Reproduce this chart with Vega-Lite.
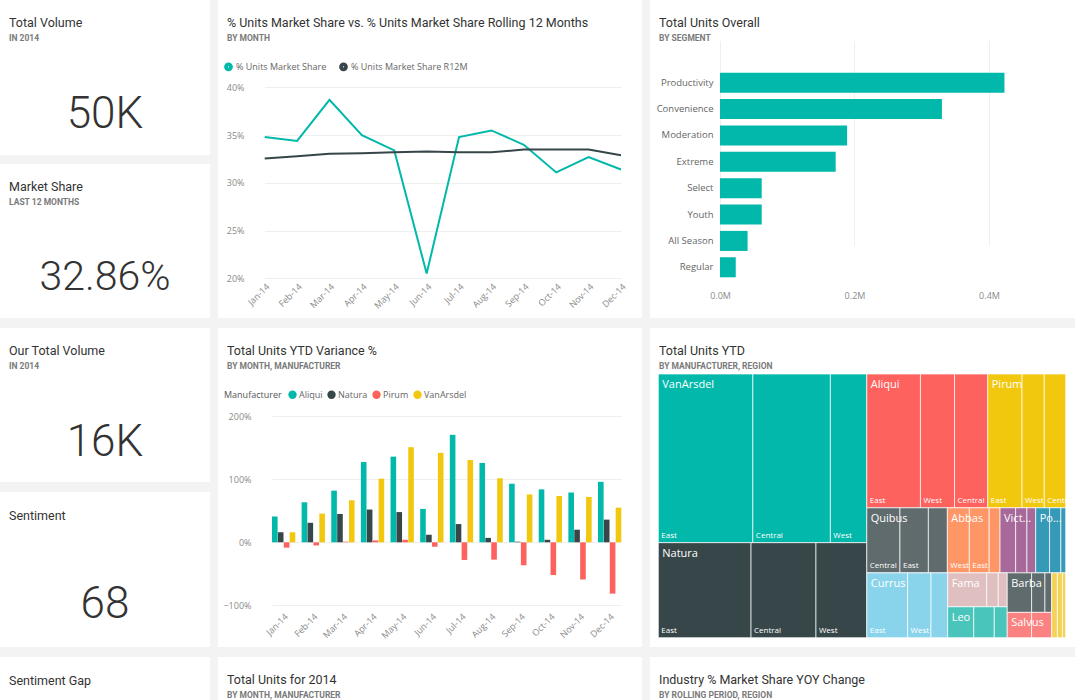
{
  "$schema": "https://vega.github.io/schema/vega-lite/v6.json",
  "background": "#f3f3f3",
  "padding": 0,
  "autosize": {"type": "pad"},
  "spacing": 10,
  "resolve": {"scale": {"color": "independent"}, "legend": {"color": "independent"}},
  "config": {
    "view": {"fill": "white", "stroke": null},
    "font": "Roboto",
    "title": {"anchor": "start", "frame": "group", "font": "Roboto", "fontSize": 12.5, "fontWeight": "normal", "color": "#333333", "subtitleFont": "Roboto", "subtitleFontSize": 8.5, "subtitleFontWeight": "bold", "subtitleColor": "#7a7a7a", "subtitlePadding": 4, "offset": -42, "dx": 9},
    "axis": {"domain": false, "ticks": false, "tickSize": 0, "labelColor": "#8a8a8a", "labelFontSize": 9, "labelFont": "Open Sans", "gridColor": "#efefef", "title": null},
    "legend": {"labelFont": "Open Sans", "labelFontSize": 9, "labelColor": "#666666", "titleFont": "Open Sans", "titleFontSize": 9, "titleFontWeight": "normal", "titleColor": "#555555", "symbolType": "circle", "symbolSize": 70, "symbolStrokeWidth": 0, "columnPadding": 4, "labelOffset": 2}
  },
  "vconcat": [
    {
      "hconcat": [
        {
          "vconcat": [
            {
              "width": 210, "height": 155,
              "title": {"text": "Total Volume", "subtitle": "IN 2014"},
              "data": {"values": [{"label": "50K"}]},
              "mark": {"type": "text", "baseline": "alphabetic", "align": "center", "font": "Roboto", "fontWeight": 300, "fontSize": 44, "color": "#333333"},
              "encoding": {
                "x": {"datum": 0.5, "type": "quantitative", "scale": {"domain": [0, 1]}, "axis": null},
                "y": {"datum": 0.177, "type": "quantitative", "scale": {"domain": [0, 1]}, "axis": null},
                "text": {"field": "label"}
              }
            },
            {
              "width": 210, "height": 154,
              "title": {"text": "Market Share", "subtitle": "LAST 12 MONTHS"},
              "data": {"values": [{"label": "32.86%"}]},
              "mark": {"type": "text", "baseline": "alphabetic", "align": "center", "font": "Roboto", "fontWeight": 300, "fontSize": 41, "color": "#333333"},
              "encoding": {
                "x": {"datum": 0.5, "type": "quantitative", "scale": {"domain": [0, 1]}, "axis": null},
                "y": {"datum": 0.182, "type": "quantitative", "scale": {"domain": [0, 1]}, "axis": null},
                "text": {"field": "label"}
              }
            }
          ],
          "spacing": 9
        },
        {
          "width": 424, "height": 318,
          "title": {"text": "% Units Market Share vs. % Units Market Share Rolling 12 Months", "subtitle": "BY MONTH"},
          "data": {"values": [
            {"month": "Jan-14", "series": "% Units Market Share", "share": 0.348},
            {"month": "Feb-14", "series": "% Units Market Share", "share": 0.344},
            {"month": "Mar-14", "series": "% Units Market Share", "share": 0.387},
            {"month": "Apr-14", "series": "% Units Market Share", "share": 0.350},
            {"month": "May-14", "series": "% Units Market Share", "share": 0.334},
            {"month": "Jun-14", "series": "% Units Market Share", "share": 0.205},
            {"month": "Jul-14", "series": "% Units Market Share", "share": 0.348},
            {"month": "Aug-14", "series": "% Units Market Share", "share": 0.355},
            {"month": "Sep-14", "series": "% Units Market Share", "share": 0.340},
            {"month": "Oct-14", "series": "% Units Market Share", "share": 0.311},
            {"month": "Nov-14", "series": "% Units Market Share", "share": 0.327},
            {"month": "Dec-14", "series": "% Units Market Share", "share": 0.314},
            {"month": "Jan-14", "series": "% Units Market Share R12M", "share": 0.3256},
            {"month": "Feb-14", "series": "% Units Market Share R12M", "share": 0.328},
            {"month": "Mar-14", "series": "% Units Market Share R12M", "share": 0.3305},
            {"month": "Apr-14", "series": "% Units Market Share R12M", "share": 0.331},
            {"month": "May-14", "series": "% Units Market Share R12M", "share": 0.332},
            {"month": "Jun-14", "series": "% Units Market Share R12M", "share": 0.333},
            {"month": "Jul-14", "series": "% Units Market Share R12M", "share": 0.332},
            {"month": "Aug-14", "series": "% Units Market Share R12M", "share": 0.332},
            {"month": "Sep-14", "series": "% Units Market Share R12M", "share": 0.335},
            {"month": "Oct-14", "series": "% Units Market Share R12M", "share": 0.335},
            {"month": "Nov-14", "series": "% Units Market Share R12M", "share": 0.335},
            {"month": "Dec-14", "series": "% Units Market Share R12M", "share": 0.329}
          ]},
          "mark": {"type": "line", "strokeWidth": 2},
          "encoding": {
            "x": {"field": "month", "type": "ordinal", "sort": null, "scale": {"type": "point", "padding": 0, "range": [46.7, 403]}, "axis": {"labelAngle": -45, "offset": -38, "labelPadding": 2, "grid": false}},
            "y": {"field": "share", "type": "quantitative", "scale": {"domain": [0.1584, 0.4917], "nice": false, "zero": false}, "axis": {"values": [0.2, 0.25, 0.3, 0.35, 0.4], "format": ".0%", "offset": -28, "labelPadding": 2, "grid": true}},
            "color": {"field": "series", "type": "nominal", "scale": {"domain": ["% Units Market Share", "% Units Market Share R12M"], "range": ["#01B8AA", "#374649"]}, "legend": {"orient": "none", "legendX": 6, "legendY": 62, "direction": "horizontal", "title": null, "symbolSize": 14, "symbolStrokeWidth": 5, "labelOffset": 3}}
          }
        },
        {
          "width": 425, "height": 318,
          "title": {"text": "Total Units Overall", "subtitle": "BY SEGMENT"},
          "data": {"values": [
            {"segment": "Productivity", "units": 423000},
            {"segment": "Convenience", "units": 330000},
            {"segment": "Moderation", "units": 189000},
            {"segment": "Extreme", "units": 172000},
            {"segment": "Select", "units": 62000},
            {"segment": "Youth", "units": 62000},
            {"segment": "All Season", "units": 41000},
            {"segment": "Regular", "units": 23400}
          ]},
          "mark": {"type": "bar", "color": "#01B8AA"},
          "encoding": {
            "y": {"field": "segment", "type": "nominal", "sort": null, "scale": {"paddingInner": 0.24, "paddingOuter": 0, "range": [72.7, 277.3]}, "axis": {"offset": -67, "labelPadding": 4, "labelFontSize": 9.5, "labelColor": "#666666"}},
            "x": {"field": "units", "type": "quantitative", "scale": {"domain": [-104100, 527900], "nice": false, "zero": false}, "axis": {"values": [0, 200000, 400000], "labelExpr": "format(datum.value/1000000, '.1f') + 'M'", "offset": -30, "labelPadding": 3, "grid": true}}
          }
        }
      ],
      "spacing": 8,
      "resolve": {"scale": {"color": "independent"}, "legend": {"color": "independent"}}
    },
    {
      "hconcat": [
        {
          "vconcat": [
            {
              "width": 210, "height": 154,
              "title": {"text": "Our Total Volume", "subtitle": "IN 2014"},
              "data": {"values": [{"label": "16K"}]},
              "mark": {"type": "text", "baseline": "alphabetic", "align": "center", "font": "Roboto", "fontWeight": 300, "fontSize": 44, "color": "#333333"},
              "encoding": {
                "x": {"datum": 0.5, "type": "quantitative", "scale": {"domain": [0, 1]}, "axis": null},
                "y": {"datum": 0.171, "type": "quantitative", "scale": {"domain": [0, 1]}, "axis": null},
                "text": {"field": "label"}
              }
            },
            {
              "width": 210, "height": 155,
              "title": {"text": "Sentiment", "offset": -30},
              "data": {"values": [{"label": "68"}]},
              "mark": {"type": "text", "baseline": "alphabetic", "align": "center", "font": "Roboto", "fontWeight": 300, "fontSize": 44, "color": "#333333"},
              "encoding": {
                "x": {"datum": 0.5, "type": "quantitative", "scale": {"domain": [0, 1]}, "axis": null},
                "y": {"datum": 0.189, "type": "quantitative", "scale": {"domain": [0, 1]}, "axis": null},
                "text": {"field": "label"}
              }
            }
          ],
          "spacing": 10
        },
        {
          "width": 424, "height": 319,
          "title": {"text": "Total Units YTD Variance %", "subtitle": "BY MONTH, MANUFACTURER"},
          "data": {"values": [
            {"month": "Jan-14", "manufacturer": "Aliqui", "variance": 0.41},
            {"month": "Jan-14", "manufacturer": "Natura", "variance": 0.16},
            {"month": "Jan-14", "manufacturer": "Pirum", "variance": -0.085},
            {"month": "Jan-14", "manufacturer": "VanArsdel", "variance": 0.16},
            {"month": "Feb-14", "manufacturer": "Aliqui", "variance": 0.635},
            {"month": "Feb-14", "manufacturer": "Natura", "variance": 0.31},
            {"month": "Feb-14", "manufacturer": "Pirum", "variance": -0.05},
            {"month": "Feb-14", "manufacturer": "VanArsdel", "variance": 0.455},
            {"month": "Mar-14", "manufacturer": "Aliqui", "variance": 0.82},
            {"month": "Mar-14", "manufacturer": "Natura", "variance": 0.45},
            {"month": "Mar-14", "manufacturer": "Pirum", "variance": 0.01},
            {"month": "Mar-14", "manufacturer": "VanArsdel", "variance": 0.667},
            {"month": "Apr-14", "manufacturer": "Aliqui", "variance": 1.275},
            {"month": "Apr-14", "manufacturer": "Natura", "variance": 0.52},
            {"month": "Apr-14", "manufacturer": "Pirum", "variance": 0.03},
            {"month": "Apr-14", "manufacturer": "VanArsdel", "variance": 1.01},
            {"month": "May-14", "manufacturer": "Aliqui", "variance": 1.36},
            {"month": "May-14", "manufacturer": "Natura", "variance": 0.48},
            {"month": "May-14", "manufacturer": "Pirum", "variance": 0.04},
            {"month": "May-14", "manufacturer": "VanArsdel", "variance": 1.51},
            {"month": "Jun-14", "manufacturer": "Aliqui", "variance": 0.53},
            {"month": "Jun-14", "manufacturer": "Natura", "variance": 0.12},
            {"month": "Jun-14", "manufacturer": "Pirum", "variance": -0.07},
            {"month": "Jun-14", "manufacturer": "VanArsdel", "variance": 1.42},
            {"month": "Jul-14", "manufacturer": "Aliqui", "variance": 1.706},
            {"month": "Jul-14", "manufacturer": "Natura", "variance": 0.29},
            {"month": "Jul-14", "manufacturer": "Pirum", "variance": -0.28},
            {"month": "Jul-14", "manufacturer": "VanArsdel", "variance": 1.306},
            {"month": "Aug-14", "manufacturer": "Aliqui", "variance": 1.26},
            {"month": "Aug-14", "manufacturer": "Natura", "variance": 0.07},
            {"month": "Aug-14", "manufacturer": "Pirum", "variance": -0.275},
            {"month": "Aug-14", "manufacturer": "VanArsdel", "variance": 1.016},
            {"month": "Sep-14", "manufacturer": "Aliqui", "variance": 0.93},
            {"month": "Sep-14", "manufacturer": "Natura", "variance": 0.01},
            {"month": "Sep-14", "manufacturer": "Pirum", "variance": -0.365},
            {"month": "Sep-14", "manufacturer": "VanArsdel", "variance": 0.76},
            {"month": "Oct-14", "manufacturer": "Aliqui", "variance": 0.84},
            {"month": "Oct-14", "manufacturer": "Natura", "variance": 0.04},
            {"month": "Oct-14", "manufacturer": "Pirum", "variance": -0.52},
            {"month": "Oct-14", "manufacturer": "VanArsdel", "variance": 0.735},
            {"month": "Nov-14", "manufacturer": "Aliqui", "variance": 0.79},
            {"month": "Nov-14", "manufacturer": "Natura", "variance": 0.2},
            {"month": "Nov-14", "manufacturer": "Pirum", "variance": -0.59},
            {"month": "Nov-14", "manufacturer": "VanArsdel", "variance": 0.72},
            {"month": "Dec-14", "manufacturer": "Aliqui", "variance": 0.96},
            {"month": "Dec-14", "manufacturer": "Natura", "variance": 0.36},
            {"month": "Dec-14", "manufacturer": "Pirum", "variance": -0.815},
            {"month": "Dec-14", "manufacturer": "VanArsdel", "variance": 0.55}
          ]},
          "mark": {"type": "bar"},
          "encoding": {
            "x": {"field": "month", "type": "ordinal", "sort": null, "scale": {"paddingInner": 0.214, "paddingOuter": 0, "range": [54, 403.3]}, "axis": {"labelAngle": -45, "offset": -37, "labelPadding": 2}},
            "xOffset": {"field": "manufacturer", "sort": null, "scale": {"paddingInner": 0.05}},
            "y": {"field": "variance", "type": "quantitative", "stack": null, "scale": {"domain": [-1.662, 3.402], "nice": false, "zero": false}, "axis": {"values": [-1, 0, 1, 2], "format": ".0%", "offset": -35, "labelPadding": 2, "grid": true}},
            "color": {"field": "manufacturer", "type": "nominal", "sort": null, "scale": {"domain": ["Aliqui", "Natura", "Pirum", "VanArsdel"], "range": ["#01B8AA", "#374649", "#FD625E", "#F2C80F"]}, "legend": {"orient": "none", "legendX": 6, "legendY": 62, "direction": "horizontal", "title": "Manufacturer", "titleOrient": "left", "titlePadding": 6}}
          }
        },
        {
          "width": 425, "height": 319,
          "title": {"text": "Total Units YTD", "subtitle": "BY MANUFACTURER, REGION"},
          "data": {"values": [
            {"m": "VanArsdel", "r": "East", "v": 15944, "c": 1, "w": 1, "b": 1},
            {"m": "VanArsdel", "r": "Central", "v": 13072, "c": 1, "w": 1, "b": 1},
            {"m": "VanArsdel", "r": "West", "v": 6141, "c": 1, "w": 1, "b": 1},
            {"m": "Natura", "r": "East", "v": 8807, "c": 1, "w": 2, "b": 1},
            {"m": "Natura", "r": "Central", "v": 6167, "c": 1, "w": 2, "b": 1},
            {"m": "Natura", "r": "West", "v": 4825, "c": 1, "w": 2, "b": 1},
            {"m": "Aliqui", "r": "East", "v": 7178, "c": 2, "w": 1, "b": 1},
            {"m": "Aliqui", "r": "West", "v": 4559, "c": 2, "w": 1, "b": 1},
            {"m": "Aliqui", "r": "Central", "v": 4441, "c": 2, "w": 1, "b": 1},
            {"m": "Pirum", "r": "East", "v": 4588, "c": 2, "w": 1, "b": 2},
            {"m": "Pirum", "r": "West", "v": 2978, "c": 2, "w": 1, "b": 2},
            {"m": "Pirum", "r": "Central", "v": 2863, "c": 2, "w": 1, "b": 2},
            {"m": "Quibus", "r": "Central", "v": 2156, "c": 2, "w": 2, "b": 1},
            {"m": "Quibus", "r": "East", "v": 1848, "c": 2, "w": 2, "b": 1},
            {"m": "Quibus", "r": "West", "v": 1235, "c": 2, "w": 2, "b": 1},
            {"m": "Abbas", "r": "West", "v": 1429, "c": 2, "w": 2, "b": 2},
            {"m": "Abbas", "r": "East", "v": 1290, "c": 2, "w": 2, "b": 2},
            {"m": "Abbas", "r": "Central", "v": 706, "c": 2, "w": 2, "b": 2},
            {"m": "Victoria", "r": "East", "v": 1014, "c": 2, "w": 2, "b": 3},
            {"m": "Victoria", "r": "West", "v": 735, "c": 2, "w": 2, "b": 3},
            {"m": "Victoria", "r": "Central", "v": 571, "c": 2, "w": 2, "b": 3},
            {"m": "Pomum", "r": "East", "v": 900, "c": 2, "w": 2, "b": 4},
            {"m": "Pomum", "r": "Central", "v": 735, "c": 2, "w": 2, "b": 4},
            {"m": "Pomum", "r": "West", "v": 315, "c": 2, "w": 2, "b": 4},
            {"m": "Currus", "r": "East", "v": 2643, "c": 2, "w": 3, "b": 1},
            {"m": "Currus", "r": "West", "v": 1517, "c": 2, "w": 3, "b": 1},
            {"m": "Currus", "r": "Central", "v": 1079, "c": 2, "w": 3, "b": 1},
            {"m": "Fama", "r": "East", "v": 1325, "c": 2, "w": 3, "b": 2},
            {"m": "Fama", "r": "West", "v": 391, "c": 2, "w": 3, "b": 2},
            {"m": "Fama", "r": "Central", "v": 304, "c": 2, "w": 3, "b": 2},
            {"m": "Leo", "r": "East", "v": 806, "c": 2, "w": 3, "b": 2},
            {"m": "Leo", "r": "Central", "v": 635, "c": 2, "w": 3, "b": 2},
            {"m": "Leo", "r": "West", "v": 400, "c": 2, "w": 3, "b": 2},
            {"m": "Barba", "r": "East", "v": 963, "c": 2, "w": 3, "b": 3},
            {"m": "Barba", "r": "Central", "v": 526, "c": 2, "w": 3, "b": 3},
            {"m": "Barba", "r": "West", "v": 265, "c": 2, "w": 3, "b": 3},
            {"m": "Salvus", "r": "East", "v": 617, "c": 2, "w": 3, "b": 3},
            {"m": "Salvus", "r": "West", "v": 508, "c": 2, "w": 3, "b": 3},
            {"m": "Palma", "r": "East", "v": 372, "c": 2, "w": 3, "b": 4},
            {"m": "Palma", "r": "Central", "v": 328, "c": 2, "w": 3, "b": 4},
            {"m": "Palma", "r": "West", "v": 210, "c": 2, "w": 3, "b": 4}
          ]},
          "transform": [
            {"joinaggregate": [{"op": "sum", "field": "v", "as": "T"}]},
            {"joinaggregate": [{"op": "sum", "field": "v", "as": "C"}], "groupby": ["c"]},
            {"joinaggregate": [{"op": "sum", "field": "v", "as": "W"}], "groupby": ["c", "w"]},
            {"joinaggregate": [{"op": "sum", "field": "v", "as": "B"}], "groupby": ["c", "w", "b"]},
            {"joinaggregate": [{"op": "sum", "field": "v", "as": "M"}], "groupby": ["m"]},
            {"window": [{"op": "sum", "field": "v", "as": "cE"}], "sort": [{"field": "c", "order": "ascending"}], "frame": [null, 0]},
            {"window": [{"op": "sum", "field": "v", "as": "wE"}], "groupby": ["c"], "sort": [{"field": "w", "order": "ascending"}], "frame": [null, 0]},
            {"window": [{"op": "sum", "field": "v", "as": "bE"}], "groupby": ["c", "w"], "sort": [{"field": "b", "order": "ascending"}], "frame": [null, 0]},
            {"window": [{"op": "sum", "field": "v", "as": "mE"}], "groupby": ["c", "w", "b"], "sort": [{"field": "M", "order": "descending"}], "frame": [null, 0]},
            {"window": [{"op": "sum", "field": "v", "as": "rE"}], "groupby": ["m"], "sort": [{"field": "v", "order": "descending"}], "frame": [null, 0]},
            {"calculate": "(datum.cE - datum.C) / datum.T", "as": "cx0"},
            {"calculate": "datum.cE / datum.T", "as": "cx1"},
            {"calculate": "(datum.wE - datum.W) / datum.C", "as": "wy0"},
            {"calculate": "datum.wE / datum.C", "as": "wy1"},
            {"calculate": "datum.cx0 + (datum.cx1 - datum.cx0) * (datum.bE - datum.B) / datum.W", "as": "bx0"},
            {"calculate": "datum.cx0 + (datum.cx1 - datum.cx0) * datum.bE / datum.W", "as": "bx1"},
            {"calculate": "datum.wy0 + (datum.wy1 - datum.wy0) * (datum.mE - datum.M) / datum.B", "as": "y0"},
            {"calculate": "datum.wy0 + (datum.wy1 - datum.wy0) * datum.mE / datum.B", "as": "y1"},
            {"calculate": "datum.bx0 + (datum.bx1 - datum.bx0) * (datum.rE - datum.v) / datum.M", "as": "x0"},
            {"calculate": "datum.bx0 + (datum.bx1 - datum.bx0) * datum.rE / datum.M", "as": "x1"}
          ],
          "layer": [
            {
              "mark": {"type": "rect", "stroke": "white", "strokeWidth": 1, "strokeOpacity": 0.7},
              "encoding": {
                "x": {"field": "x0", "type": "quantitative", "scale": {"domain": [-0.02037, 1.02283], "nice": false, "zero": false}, "axis": null},
                "x2": {"field": "x1"},
                "y": {"field": "y0", "type": "quantitative", "scale": {"domain": [-0.17444, 1.03527], "reverse": true, "nice": false, "zero": false}, "axis": null},
                "y2": {"field": "y1"},
                "color": {"field": "m", "type": "nominal", "scale": {"domain": ["VanArsdel", "Natura", "Aliqui", "Pirum", "Quibus", "Abbas", "Victoria", "Pomum", "Currus", "Fama", "Leo", "Barba", "Salvus", "Palma"], "range": ["#01B8AA", "#374649", "#FD625E", "#F2C80F", "#5F6B6D", "#FE9666", "#A66999", "#3599B8", "#8AD4EB", "#DFBFBF", "#4AC5BB", "#5F6B6D", "#FB8281", "#F4D25A"]}, "legend": null}
              }
            },
            {
              "transform": [{"filter": "(datum.x1 - datum.x0) * 407.4 >= 19 && (datum.y1 - datum.y0) * 263.7 >= 40"}],
              "mark": {"type": "text", "align": "left", "baseline": "bottom", "dx": 3, "dy": -3, "fontSize": 8, "font": "Open Sans", "color": "white"},
              "encoding": {
                "x": {"field": "x0", "type": "quantitative"},
                "y": {"field": "y1", "type": "quantitative"},
                "text": {"field": "r"}
              }
            },
            {
              "transform": [{"filter": "datum.rE == datum.v && (datum.bx1 - datum.bx0) * 407.4 >= 25"}],
              "mark": {"type": "text", "align": "left", "baseline": "top", "dx": 4, "dy": 5, "fontSize": 11, "font": "Open Sans", "color": "white", "limit": {"expr": "(datum.bx1 - datum.bx0) * 407.4 - 6"}, "ellipsis": "..."},
              "encoding": {
                "x": {"field": "bx0", "type": "quantitative"},
                "y": {"field": "y0", "type": "quantitative"},
                "text": {"field": "m"}
              }
            }
          ]
        }
      ],
      "spacing": 8,
      "resolve": {"scale": {"color": "independent"}, "legend": {"color": "independent"}}
    },
    {
      "hconcat": [
        {
          "width": 210, "height": 43,
          "title": {"text": "Sentiment Gap", "offset": -30},
          "data": {"values": [{"label": ""}]},
          "mark": {"type": "text"},
          "encoding": {
            "x": {"datum": 0.5, "type": "quantitative", "scale": {"domain": [0, 1]}, "axis": null},
            "y": {"datum": 0.5, "type": "quantitative", "scale": {"domain": [0, 1]}, "axis": null},
            "text": {"field": "label"}
          }
        },
        {
          "width": 424, "height": 43,
          "title": {"text": "Total Units for 2014", "subtitle": "BY MONTH, MANUFACTURER"},
          "data": {"values": [{"label": ""}]},
          "mark": {"type": "text"},
          "encoding": {
            "x": {"datum": 0.5, "type": "quantitative", "scale": {"domain": [0, 1]}, "axis": null},
            "y": {"datum": 0.5, "type": "quantitative", "scale": {"domain": [0, 1]}, "axis": null},
            "text": {"field": "label"}
          }
        },
        {
          "width": 425, "height": 43,
          "title": {"text": "Industry % Market Share YOY Change", "subtitle": "BY ROLLING PERIOD, REGION"},
          "data": {"values": [{"label": ""}]},
          "mark": {"type": "text"},
          "encoding": {
            "x": {"datum": 0.5, "type": "quantitative", "scale": {"domain": [0, 1]}, "axis": null},
            "y": {"datum": 0.5, "type": "quantitative", "scale": {"domain": [0, 1]}, "axis": null},
            "text": {"field": "label"}
          }
        }
      ],
      "spacing": 8
    }
  ]
}
